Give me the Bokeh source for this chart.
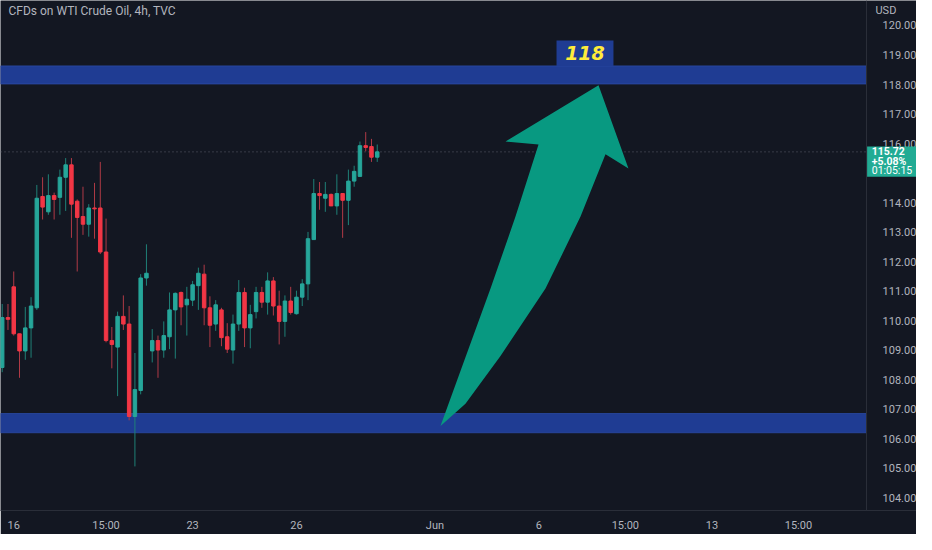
from bokeh.plotting import figure
from bokeh.models import (FixedTicker, PrintfTickFormatter, BoxAnnotation, Label,
                          ColumnDataSource, Range1d, LinearAxis)
from bokeh.embed import file_html
from bokeh.resources import INLINE

# ---------------- data (4h candles, WTI) ----------------
bar_index = list(range(66))
opens = [108.42, 110.11, 111.15, 109.56, 108.98, 109.76, 110.44, 114.21, 113.69, 114.24,
         114.18, 114.86, 115.28, 114.05, 113.53, 113.27, 113.82, 113.82, 112.33, 109.33,
         109.11, 110.15, 109.89, 106.76, 107.64, 111.45, 108.98, 109.33, 109.01, 109.46,
         110.37, 110.96, 110.54, 110.70, 111.19, 111.58, 110.44, 109.89, 110.37, 109.46,
         109.01, 109.89, 110.96, 109.76, 110.31, 110.96, 110.63, 111.35, 110.50, 109.98,
         110.67, 110.24, 110.80, 111.25, 112.75, 114.31, 114.15, 114.28, 113.89, 114.31,
         114.08, 114.73, 114.89, 115.93, 115.90, 115.54]
highs = [110.57, 110.57, 111.67, 109.56, 110.47, 110.80, 114.60, 114.86, 114.96, 114.34,
         115.12, 115.51, 115.51, 114.11, 114.54, 113.95, 114.67, 115.38, 113.46, 109.79,
         110.31, 110.86, 110.50, 108.91, 111.58, 112.59, 109.72, 109.50, 109.98, 110.96,
         110.96, 110.99, 111.15, 111.35, 111.80, 111.90, 110.83, 110.70, 110.44, 109.92,
         110.21, 111.38, 111.12, 110.54, 111.15, 111.15, 111.64, 111.48, 111.02, 110.86,
         111.15, 111.02, 111.41, 113.01, 114.80, 114.70, 114.70, 114.31, 114.96, 114.31,
         115.12, 115.25, 116.07, 116.39, 116.16, 115.97]
lows = [108.26, 109.69, 109.50, 108.07, 108.68, 108.75, 110.37, 113.43, 113.59, 113.43,
        113.59, 113.72, 112.81, 111.67, 112.91, 112.85, 112.78, 112.26, 109.27, 108.39,
        107.45, 109.69, 106.63, 105.07, 107.51, 111.19, 108.59, 108.07, 108.75, 109.04,
        108.72, 109.85, 109.50, 110.50, 110.37, 109.85, 109.11, 109.66, 109.14, 108.91,
        108.55, 109.66, 109.11, 109.07, 110.08, 110.44, 110.21, 110.18, 109.20, 109.46,
        110.21, 110.21, 110.50, 110.70, 112.75, 113.76, 113.69, 113.89, 113.59, 112.81,
        113.24, 114.54, 114.89, 115.74, 115.38, 115.38]
closes = [110.11, 110.05, 109.56, 108.98, 109.76, 110.50, 114.15, 113.85, 114.24, 114.11,
          114.86, 115.28, 113.95, 113.50, 113.27, 113.82, 113.79, 112.33, 109.33, 109.20,
          110.15, 109.89, 106.76, 107.67, 111.45, 111.61, 109.33, 109.01, 109.50, 110.37,
          110.93, 110.47, 110.73, 111.22, 111.61, 110.44, 109.85, 110.54, 109.43, 109.04,
          109.89, 110.96, 109.76, 110.21, 110.96, 110.63, 111.35, 110.50, 109.98, 110.67,
          110.28, 110.80, 111.25, 112.78, 114.31, 114.24, 114.28, 113.89, 114.31, 114.08,
          114.73, 115.06, 115.93, 115.87, 115.54, 115.72]

last_price = 115.72
last_change = "+5.08%"
countdown = "01:05:15"

# horizontal zones (price levels)
upper_zone = (118.02, 118.63)
lower_zone = (106.21, 106.86)
target_text = "118"

# time-axis ticks (bar index) and their labels
tick_pos = [2, 18, 33, 51, 75, 93, 108, 123, 138]
tick_labels = ["16", "15:00", "23", "26", "Jun", "6", "15:00", "13", "15:00"]
price_ticks = [104, 105, 106, 107, 108, 109, 110, 111, 112, 113, 114, 116, 117, 118, 119, 120]

# drawn arrow (bar index, price)
arrow_x = [75.96, 79.77, 84.63, 88.96, 92.95, 87.23, 103.35, 108.54, 104.56, 100.23, 94.16, 86.36, 80.29]
arrow_y = [106.44, 108.49, 111.09, 113.53, 115.97, 116.07, 117.98, 115.16, 115.64, 113.53, 111.09, 108.81, 107.19]

# ---------------- styles ----------------
BG = "#131722"
UP, DOWN = "#26a69a", "#f23645"
UP_WICK, DOWN_WICK = "#1f8077", "#b03a46"
BAND = "#1f3c93"
TAG = "#22ab94"
TXT = "#b2b5be"
LINE = "#2a2e39"
FONT = "Roboto"

X0, X_AXIS, X1 = -0.295, 149.8, 158.46   # left edge, price-scale edge, right edge (bar units)

p = figure(width=916, height=534, output_backend="svg", toolbar_location=None,
           x_range=Range1d(X0, X1), y_range=Range1d(103.577, 120.8455),
           y_axis_location=None,
           min_border_left=0, min_border_top=0, min_border_right=0, min_border_bottom=14,
           background_fill_color=BG, border_fill_color=BG, outline_line_color=None)
p.grid.visible = False

xa = p.xaxis[0]
xa.ticker = FixedTicker(ticks=tick_pos)
xa.major_label_overrides = {t: l for t, l in zip(tick_pos, tick_labels)}
xa.axis_line_color = LINE
xa.major_tick_line_color = None
xa.minor_tick_line_color = None
xa.major_label_text_color = TXT
xa.major_label_text_font = FONT
xa.major_label_text_font_size = "11px"
xa.major_label_standoff = 2

ya = LinearAxis(fixed_location=X_AXIS,
                ticker=FixedTicker(ticks=price_ticks),
                formatter=PrintfTickFormatter(format="%.2f"),
                axis_line_color=LINE, major_tick_line_color=None, minor_tick_line_color=None,
                major_label_text_color=TXT, major_label_text_font=FONT,
                major_label_text_font_size="11px", major_label_standoff=10)
p.add_layout(ya, "right")

# zones (stop at the price scale)
for lo, hi in (upper_zone, lower_zone):
    p.add_layout(BoxAnnotation(left=X0, right=X_AXIS, bottom=lo, top=hi, fill_color=BAND,
                               fill_alpha=1.0, line_color="#2a4aa6", line_width=1,
                               line_alpha=0.8, level="underlay"))

# last price dotted line
p.segment(x0=[X0], y0=[last_price], x1=[X_AXIS], y1=[last_price], line_color="#5d606b",
          line_dash="1 3", line_width=1, level="underlay")

# candles
up = [c >= o for o, c in zip(opens, closes)]
src = ColumnDataSource(dict(
    x=bar_index, h=highs, l=lows,
    top=[max(o, c) for o, c in zip(opens, closes)],
    bottom=[min(o, c) for o, c in zip(opens, closes)],
    body=[UP if u else DOWN for u in up],
    wick=[UP_WICK if u else DOWN_WICK for u in up],
))
p.segment("x", "h", "x", "l", source=src, line_color="wick", line_width=1)
p.vbar(x="x", width=0.6, top="top", bottom="bottom", source=src,
       fill_color="body", line_color="body", line_width=1)

# arrow
p.patch(arrow_x, arrow_y, fill_color="#089981", line_color=None)

# target label box
p.add_layout(BoxAnnotation(left=96.07, right=105.94, bottom=upper_zone[1], top=119.49,
                           fill_color=BAND, fill_alpha=1.0, line_color=None))
p.add_layout(Label(x=101.0, y=119.06, text=target_text, text_align="center",
                   text_baseline="middle", text_color="#ffeb3b", text_font="DejaVu Sans",
                   text_font_style="bold italic", text_font_size="19px"))

# title
p.add_layout(Label(x=1.09, y=120.48, text="CFDs on WTI Crude Oil, 4h, TVC",
                   text_align="left", text_baseline="middle", text_color=TXT,
                   text_font=FONT, text_font_size="12px"))

# currency
p.add_layout(Label(x=151.35, y=120.51, text="USD", text_align="left",
                   text_baseline="middle", text_color=TXT, text_font=FONT,
                   text_font_size="11px"))

# last price tag (box + three lines)
p.add_layout(BoxAnnotation(left=149.9, right=160.4, bottom=114.876, top=115.906,
                           fill_color=TAG, fill_alpha=1.0, line_color=None))
for txt, yy, style in ((f"{last_price:.2f}", 115.74, "bold"),
                       (last_change, 115.41, "bold"),
                       (countdown, 115.08, "normal")):
    p.add_layout(Label(x=150.7, y=yy, text=txt, text_align="left",
                       text_baseline="middle", text_color="#ffffff", text_font=FONT,
                       text_font_style=style, text_font_size="10.5px"))

open("out.html", "w").write(file_html(p, INLINE))
